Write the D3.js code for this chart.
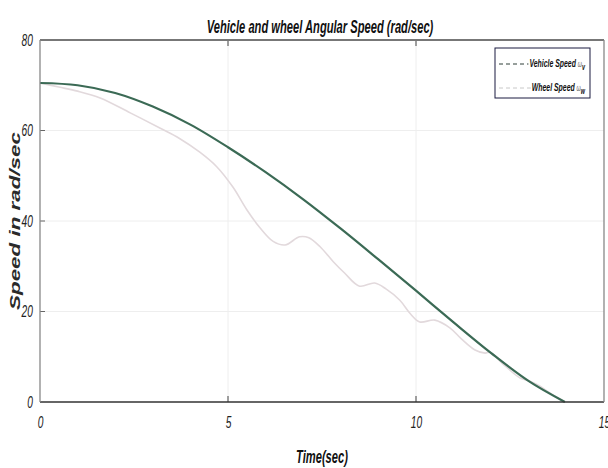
<!DOCTYPE html>
<html>
<head>
<meta charset="utf-8">
<script src="https://cdn.jsdelivr.net/npm/d3@7"></script>
<style>
  body { margin: 0; background: #fff; }
  svg { display: block; }
  text { font-family: "Liberation Sans", Arial, sans-serif; }
</style>
</head>
<body>
<div id="chart"></div>
<script>
const width = 608
const height = 468
const margin = { top: 40, right: 4, bottom: 66, left: 40 }
const squeeze = 0.6

// vehicle angular speed (rad/sec)
const vehicleTime = [0, 1, 2, 3, 4, 5, 6, 7, 8, 9, 10, 11, 12, 13, 13.96]
const vehicleSpeed = [70.5, 70.0, 68.3, 65.3, 61.3, 56.3, 50.8, 44.8, 38.3, 31.5, 24.6, 17.6, 10.8, 4.6, 0]

// wheel angular speed (rad/sec)
const wheelTime = [0, 0.5, 1, 1.6, 2.4, 3.2, 3.7, 4.25, 4.7, 5.13, 5.5, 5.85, 6.2, 6.52, 6.9, 7.15, 7.45, 7.8, 8.1, 8.5, 8.9, 9.2, 9.57, 9.85, 10.1, 10.5, 10.9, 11.2, 11.57, 11.84, 11.97, 12.3, 12.77, 13.03, 13.3, 13.56, 13.96]
const wheelSpeed = [70.5, 69.6, 68.7, 67.2, 63.9, 60.5, 58.3, 55.2, 52.0, 47.5, 42.5, 38.5, 35.5, 34.7, 36.5, 36.3, 34.3, 31.0, 28.5, 25.6, 26.3, 25.0, 22.5, 19.5, 17.7, 18.1, 16.4, 14.0, 11.5, 10.8, 11.0, 8.5, 5.3, 4.6, 3.5, 2.0, 0]

const xTicks = [0, 5, 10, 15]
const yTicks = [0, 20, 40, 60, 80]
const gridX = [5, 10]
const gridY = [20, 40, 60]

const legendLabels = [
  { name: 'Vehicle Speed ', sym: 'ω', sub: 'v', color: '#2f3f38' },
  { name: 'Wheel Speed ', sym: 'ω', sub: 'w', color: '#c8c8c8' }
]

const svg = d3.select('#chart')
  .append('svg')
  .attr('width', width)
  .attr('height', height)

const x = d3.scaleLinear().domain([0, 15]).range([margin.left, width - margin.right])
const y = d3.scaleLinear().domain([0, 80]).range([height - margin.bottom, margin.top])

// grid
svg.append('g')
  .selectAll('line')
  .data(gridX)
  .enter()
  .append('line')
  .attr('x1', d => x(d)).attr('x2', d => x(d))
  .attr('y1', y(80)).attr('y2', y(0))
  .attr('stroke', '#eeeeee')
  .attr('stroke-width', 1)

svg.append('g')
  .selectAll('line')
  .data(gridY)
  .enter()
  .append('line')
  .attr('x1', x(0)).attr('x2', x(15))
  .attr('y1', d => y(d)).attr('y2', d => y(d))
  .attr('stroke', '#eeeeee')
  .attr('stroke-width', 1)

// series
const line = d3.line()
  .x(d => x(d[0]))
  .y(d => y(d[1]))
  .curve(d3.curveCatmullRom.alpha(0.5))

svg.append('path')
  .datum(wheelTime.map((t, i) => [t, wheelSpeed[i]]))
  .attr('d', line)
  .attr('fill', 'none')
  .attr('stroke', '#e2d9dc')
  .attr('stroke-width', 1.6)

svg.append('path')
  .datum(vehicleTime.map((t, i) => [t, vehicleSpeed[i]]))
  .attr('d', line)
  .attr('fill', 'none')
  .attr('stroke', '#3b6a55')
  .attr('stroke-width', 2.2)

// axes
const xAxis = d3.axisBottom(x).tickValues(xTicks).tickSize(0).tickPadding(14)
const yAxis = d3.axisLeft(y).tickValues(yTicks).tickSize(0).tickPadding(12)

const gx = svg.append('g')
  .attr('transform', `translate(0,${y(0)})`)
  .call(xAxis)
gx.select('.domain').remove()
gx.selectAll('text')
  .attr('transform', `scale(${squeeze},1)`)
  .style('font-size', '17px')
  .style('font-style', 'italic')
  .attr('fill', '#222')

const gy = svg.append('g')
  .attr('transform', `translate(${x(0)},0)`)
  .call(yAxis)
gy.select('.domain').remove()
gy.selectAll('text')
  .attr('transform', `scale(${squeeze},1)`)
  .style('font-size', '17px')
  .style('font-style', 'italic')
  .attr('fill', '#222')

// inner tick marks
svg.append('g')
  .selectAll('line')
  .data(gridX)
  .enter()
  .append('line')
  .attr('x1', d => x(d)).attr('x2', d => x(d))
  .attr('y1', y(80)).attr('y2', y(80) + 6)
  .attr('stroke', '#444')

svg.append('g')
  .selectAll('line')
  .data(gridX)
  .enter()
  .append('line')
  .attr('x1', d => x(d)).attr('x2', d => x(d))
  .attr('y1', y(0)).attr('y2', y(0) - 6)
  .attr('stroke', '#444')

svg.append('g')
  .selectAll('line')
  .data(gridY)
  .enter()
  .append('line')
  .attr('x1', x(0)).attr('x2', x(0) + 5)
  .attr('y1', d => y(d)).attr('y2', d => y(d))
  .attr('stroke', '#666')

// frame
svg.append('line')
  .attr('x1', x(0)).attr('x2', x(15)).attr('y1', y(80)).attr('y2', y(80))
  .attr('stroke', '#777').attr('stroke-width', 2)
svg.append('line')
  .attr('x1', x(0)).attr('x2', x(15)).attr('y1', y(0)).attr('y2', y(0))
  .attr('stroke', '#333').attr('stroke-width', 1.3)
svg.append('line')
  .attr('x1', x(0)).attr('x2', x(0)).attr('y1', y(80)).attr('y2', y(0))
  .attr('stroke', '#888').attr('stroke-width', 1.3)
svg.append('line')
  .attr('x1', x(15)).attr('x2', x(15)).attr('y1', y(80)).attr('y2', y(0))
  .attr('stroke', '#888').attr('stroke-width', 1.3)

// title and axis labels (condensed via horizontal scale)
svg.append('g')
  .attr('transform', `translate(320,33) scale(0.62,1)`)
  .append('text')
  .attr('text-anchor', 'middle')
  .style('font-size', '18px')
  .style('font-style', 'italic')
  .style('font-weight', 'bold')
  .attr('fill', '#111')
  .text('Vehicle and wheel Angular Speed (rad/sec)')

svg.append('g')
  .attr('transform', `translate(322,463) scale(0.62,1)`)
  .append('text')
  .attr('text-anchor', 'middle')
  .style('font-size', '18px')
  .style('font-style', 'italic')
  .style('font-weight', 'bold')
  .attr('fill', '#111')
  .text('Time(sec)')

// y label: widened glyphs along the reading direction
svg.append('g')
  .attr('transform', 'translate(20,221) rotate(-90) scale(1.6,1)')
  .append('text')
  .attr('text-anchor', 'middle')
  .style('font-size', '14px')
  .style('font-style', 'italic')
  .style('font-weight', 'bold')
  .attr('fill', '#2a2a2a')
  .text('Speed in rad/sec')

// legend
const legend = svg.append('g').attr('transform', 'translate(495,48)')
legend.append('rect')
  .attr('width', 95).attr('height', 50)
  .attr('fill', '#fff')
  .attr('stroke', '#1a1a40')
  .attr('stroke-width', 1)

const rows = legend.selectAll('g.row')
  .data(legendLabels)
  .enter()
  .append('g')
  .attr('class', 'row')
  .attr('transform', (d, i) => `translate(0,${16 + i * 24})`)

const lt = rows.append('g')
  .attr('transform', `translate(90,3) scale(${squeeze},1)`)
  .append('text')
  .attr('text-anchor', 'end')
  .style('font-size', '11.5px')
  .style('font-style', 'italic')
  .style('font-weight', 'bold')
  .attr('fill', '#111')
lt.append('tspan').text(d => d.name)
lt.append('tspan').style('font-weight', 'normal').style('font-size', '9px').attr('fill', '#666').text(d => d.sym)
lt.append('tspan').attr('dy', 3).style('font-size', '9px').text(d => d.sub)

rows.each(function (d) {
  const w = d3.select(this).select('text').node().getComputedTextLength() * squeeze
  d3.select(this).insert('line', 'g')
    .attr('x1', 4).attr('x2', 90 - w - 1)
    .attr('stroke', d.color)
    .attr('stroke-width', 1)
    .attr('stroke-dasharray', '4,3')
})
</script>
</body>
</html>
